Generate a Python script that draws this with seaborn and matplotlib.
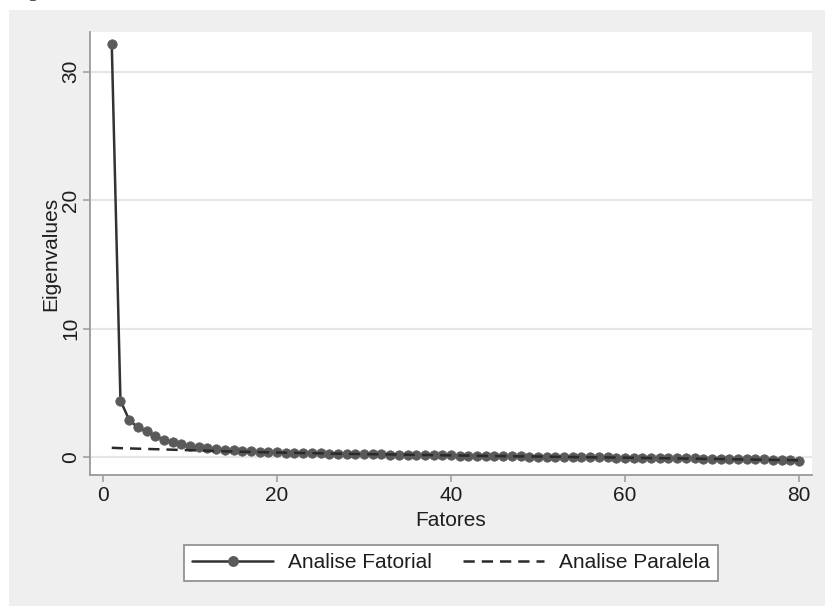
import matplotlib
matplotlib.use("Agg")
import matplotlib.pyplot as plt
import seaborn as sns
import pandas as pd
from matplotlib.patches import Rectangle
from matplotlib.lines import Line2D

fatores = list(range(1, 81))
analise_fatorial = [
    32.2, 4.4, 2.9, 2.3, 2.0, 1.6, 1.35, 1.15, 0.98, 0.85,
    0.75, 0.67, 0.61, 0.56, 0.52, 0.48, 0.45, 0.42, 0.39, 0.37,
    0.35, 0.33, 0.31, 0.30, 0.28, 0.27, 0.25, 0.24, 0.23, 0.22,
    0.21, 0.20, 0.19, 0.18, 0.17, 0.16, 0.15, 0.14, 0.13, 0.12,
    0.11, 0.10, 0.09, 0.08, 0.07, 0.07, 0.06, 0.05, 0.04, 0.03,
    0.02, 0.02, 0.01, 0.00, -0.01, -0.02, -0.02, -0.03, -0.04, -0.05,
    -0.06, -0.06, -0.07, -0.08, -0.09, -0.10, -0.10, -0.11, -0.12, -0.13,
    -0.14, -0.15, -0.16, -0.17, -0.18, -0.19, -0.21, -0.23, -0.25, -0.28,
]
analise_paralela = [
    0.72, 0.69, 0.67, 0.65, 0.63, 0.61, 0.59, 0.57, 0.55, 0.53,
    0.51, 0.49, 0.47, 0.45, 0.43, 0.41, 0.40, 0.38, 0.37, 0.35,
    0.34, 0.33, 0.31, 0.30, 0.29, 0.27, 0.26, 0.25, 0.24, 0.23,
    0.22, 0.21, 0.20, 0.19, 0.18, 0.17, 0.16, 0.15, 0.14, 0.13,
    0.12, 0.11, 0.10, 0.09, 0.08, 0.07, 0.06, 0.05, 0.05, 0.04,
    0.03, 0.02, 0.01, 0.00, -0.01, -0.02, -0.03, -0.03, -0.04, -0.05,
    -0.06, -0.07, -0.08, -0.09, -0.10, -0.11, -0.12, -0.13, -0.14, -0.15,
    -0.16, -0.17, -0.18, -0.19, -0.20, -0.21, -0.22, -0.23, -0.24, -0.25,
]
x_ticks = [0, 20, 40, 60, 80]
y_ticks = [0, 10, 20, 30]
x_label = "Fatores"
y_label = "Eigenvalues"
legend_labels = ["Analise Fatorial", "Analise Paralela"]

sns.set_style("white")
plt.rcParams["font.family"] = ["Liberation Sans", "DejaVu Sans"]

W, H = 825, 606
FS = 15
TXT = "#1e1e1e"
fig = plt.figure(figsize=(W / 100, H / 100), dpi=100, facecolor="white")

# grey outer panel
bg = Rectangle((9 / W, 0), 1 - 9 / W, 1 - 10 / H,
               transform=fig.transFigure, facecolor="#efefef",
               edgecolor="none", zorder=-10)
fig.add_artist(bg)
# cropped caption fragment at the very top
fig.text(27 / W, 1 + 4 / H, "g", fontsize=15, family="Liberation Serif",
         color="#333333", va="baseline", ha="left")

left, right, top, bottom = 90, 812, 32, 475
ax = fig.add_axes([left / W, 1 - bottom / H, (right - left) / W, (bottom - top) / H])
ax.set_zorder(1)
ax.set_facecolor("white")

df = pd.DataFrame({"Fatores": fatores, "fat": analise_fatorial, "par": analise_paralela})

sns.lineplot(data=df, x="Fatores", y="par", ax=ax, color="#2a2a2a",
             linewidth=1.8, linestyle=(0, (4.5, 2.8)), zorder=3)
sns.lineplot(data=df, x="Fatores", y="fat", ax=ax, color="#333333",
             linewidth=1.8, marker="o", markersize=6.8, markerfacecolor="#5a5a5a",
             markeredgecolor="#5a5a5a", markeredgewidth=0.5, zorder=2)

ax.set_xlim(-1.5, 81.5)
ax.set_ylim(-1.4, 33.1)
ax.set_xticks(x_ticks)
ax.set_yticks(y_ticks)
ax.yaxis.grid(True, color="#e6e6e6", linewidth=1.6, zorder=0)
ax.xaxis.grid(False)
ax.set_axisbelow(True)

for s in ["top", "right"]:
    ax.spines[s].set_visible(False)
for s in ["left", "bottom"]:
    ax.spines[s].set_color("#9a9a9a")
    ax.spines[s].set_linewidth(1.3)

ax.tick_params(axis="both", which="major", direction="out", length=5, width=1.1,
               color="#9a9a9a", labelsize=FS, labelcolor=TXT,
               bottom=True, left=True)
ax.tick_params(axis="x", pad=3)
ax.tick_params(axis="y", pad=2)
for lab in ax.get_yticklabels():
    lab.set_rotation(90)
    lab.set_va("center")

ax.set_xlabel(x_label, fontsize=FS, color=TXT, labelpad=4)
ax.set_ylabel(y_label, fontsize=FS, color=TXT, labelpad=1)

handles = [
    Line2D([], [], color="#333333", linewidth=1.8, marker="o", markersize=6.8,
           markerfacecolor="#5a5a5a", markeredgecolor="#5a5a5a"),
    Line2D([], [], color="#2a2a2a", linewidth=1.8, linestyle=(0, (4.5, 2.8))),
]
leg = ax.legend(handles, legend_labels, loc="center", bbox_to_anchor=(0.5, -0.198),
                ncol=2, frameon=True, fancybox=False, fontsize=FS,
                handlelength=3.9, columnspacing=1.5, borderpad=0.4,
                handletextpad=0.7, borderaxespad=0, edgecolor="#8a8a8a",
                facecolor="white", framealpha=1)
leg.get_frame().set_linewidth(1.2)
for t in leg.get_texts():
    t.set_color(TXT)

fig.savefig("out.png", dpi=100, facecolor="white")
